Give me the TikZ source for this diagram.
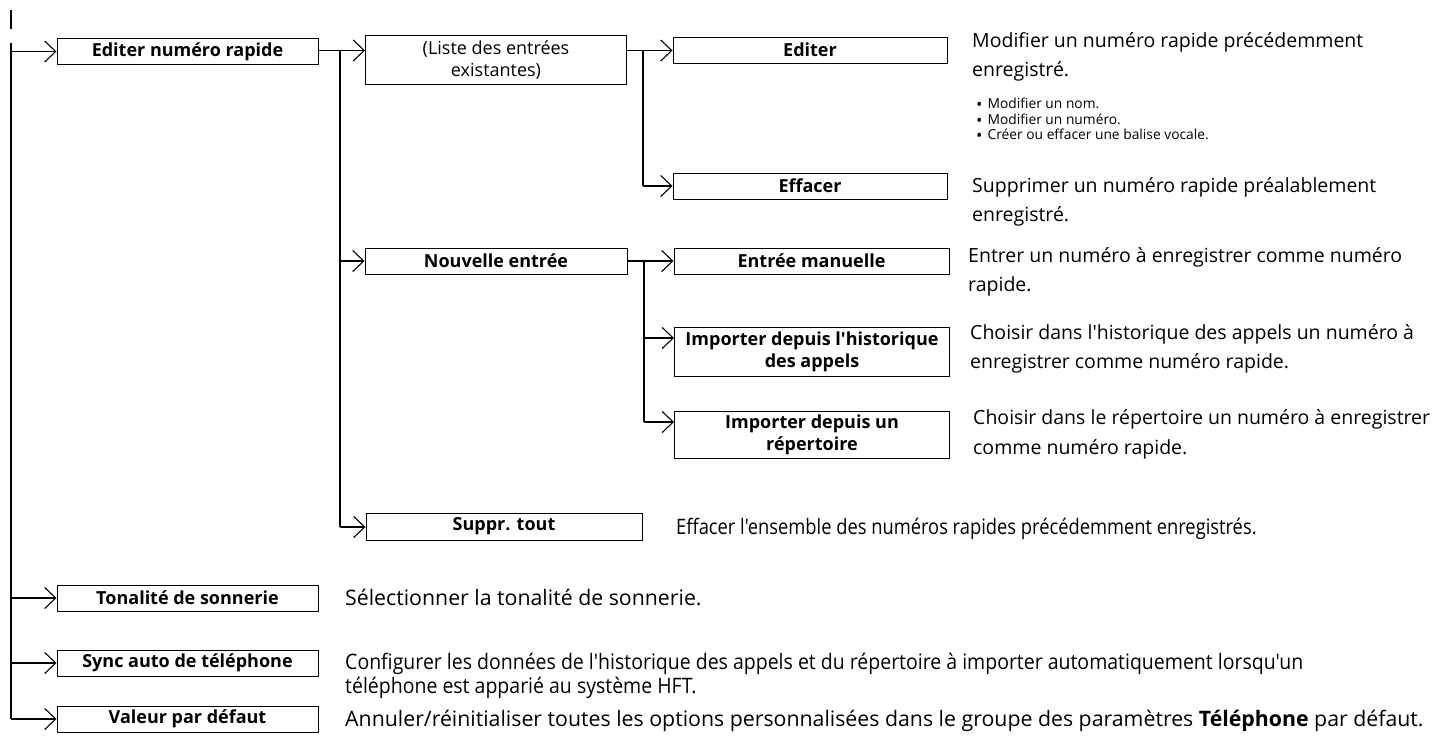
\documentclass[tikz,border=0pt]{standalone}
\usepackage{fontspec}
\setmainfont{Open Sans}[Ligatures=TeXOff]
\newfontfamily\syncfam[FakeStretch=0.915]{Open Sans}
\newfontfamily\supprfam[FakeStretch=0.86]{Open Sans}
\usetikzlibrary{arrows.meta}
\newcommand{\boxfont}{\bfseries\fontsize{18}{21.5}\selectfont}
\newcommand{\descfont}{\fontsize{19.5}{29.5}\selectfont}
\newcommand{\bulfont}{\fontsize{13.8}{15.5}\selectfont}
\newcommand{\lowfont}{\fontsize{21.3}{24}\selectfont}
\newcommand{\bul}{\raisebox{-2pt}{\fontsize{17}{15}\selectfont •}\hspace{5pt}}
\begin{document}
\begin{tikzpicture}[x=1pt,y=-1pt,
  menubox/.style={draw, line width=1pt, inner sep=0pt, align=center, font=\boxfont},
  conn/.style={line width=1.8pt},
  arr/.style={line width=1.8pt, -{Straight Barb[length=11pt,width=21pt,line width=1.1pt]}},
  desc/.style={inner sep=0pt, align=left, font=\descfont, anchor=base west},
  low/.style={inner sep=0pt, align=left, font=\lowfont, anchor=base west},
  bulitem/.style={inner sep=0pt, font=\bulfont, anchor=base west}
]
\useasboundingbox (0,0) rectangle (1434,737);
\fill[white] (0,0) rectangle (1434,737);

% trunk
\coordinate (tickA) at (11,10);
\coordinate (tickB) at (11,29);
\draw[conn] (tickA) -- (tickB);
\coordinate (trTop) at (11,43);

% level 1 boxes
\node[menubox, minimum width=261pt, minimum height=26pt] (edit) at (187.5,51.5) {Editer numéro rapide};
\node[menubox, minimum width=261pt, minimum height=26pt] (tonal) at (187.5,598) {Tonalité de sonnerie};
\node[menubox, minimum width=261pt, minimum height=26pt] (sync) at (187.5,663) {Sync auto de téléphone};
\node[menubox, minimum width=261pt, minimum height=26pt] (valeur) at (187.5,719) {Valeur par défaut};

\coordinate (trBot) at (11,719);
\draw[conn] (trTop) -- (trBot);
\draw[arr] (11,51.5) -- (edit.west);
\draw[arr] (11,598) -- (tonal.west);
\draw[arr] (11,663) -- (sync.west);
\draw[arr] (trBot) -- (valeur.west);

% level 2
\node[menubox, font=\mdseries\fontsize{18}{21.5}\selectfont, minimum width=261pt, minimum height=49pt, anchor=north west] (liste) at (365,35) {(Liste des entrées\\existantes)};
\node[menubox, minimum width=262pt, minimum height=26pt] (nouv) at (496,261) {Nouvelle entrée};
\node[menubox, minimum width=276pt, minimum height=27pt] (suppr) at (504,526.5) {Suppr. tout};

\coordinate (b1top) at (340,50.5);
\coordinate (b1bot) at (340,527);
\draw[conn] (edit.east |- b1top) -- (b1top) -- (b1bot);
\draw[arr] (b1top) -- (liste.west |- b1top);
\draw[arr] (340,261) -- (nouv.west);
\draw[arr] (b1bot) -- (suppr.west |- b1bot);

% level 3
\node[menubox, minimum width=274pt, minimum height=26pt] (editer) at (810,50) {Editer};
\node[menubox, minimum width=274pt, minimum height=26pt] (effacer) at (810,186) {Effacer};
\node[menubox, minimum width=275pt, minimum height=26pt] (manu) at (811.5,261) {Entrée manuelle};
\node[menubox, minimum width=275pt, minimum height=49pt, anchor=north west] (hist) at (674,327) {Importer depuis l'historique\\des appels};
\node[menubox, minimum width=275pt, minimum height=47pt, anchor=north west] (rep) at (674,411) {Importer depuis un\\répertoire};

\coordinate (b2top) at (643,50.5);
\coordinate (b2bot) at (643,186);
\draw[conn] (liste.east |- b2top) -- (b2top) -- (b2bot);
\draw[arr] (b2top) -- (editer.west |- b2top);
\draw[arr] (b2bot) -- (effacer.west);

\coordinate (b3top) at (644,261);
\coordinate (b3bot) at (644,422);
\draw[conn] (nouv.east) -- (b3top) -- (b3bot);
\draw[arr] (b3top) -- (manu.west);
\draw[arr] (644,338) -- (hist.west |- 0,338);
\draw[arr] (b3bot) -- (rep.west |- b3bot);

% descriptions (base west = baseline of the last line)
\node[desc] (dEditer) at (972,76.5) {Modifier un numéro rapide précédemment\\enregistré.};
\node[bulitem] (dBul1) at (976,108.5) {\bul Modifier un nom.};
\node[bulitem] (dBul2) at (976,124) {\bul Modifier un numéro.};
\node[bulitem] (dBul3) at (976,139.5) {\bul Créer ou effacer une balise vocale.};
\node[desc] (dEffacer) at (972,221.5) {Supprimer un numéro rapide préalablement\\enregistré.};
\node[desc] (dManu) at (968,291.5) {Entrer un numéro à enregistrer comme numéro\\rapide.};
\node[desc] (dHist) at (970,368.5) {Choisir dans l'historique des appels un numéro à\\enregistrer comme numéro rapide.};
\node[desc] (dRep) at (973,454) {Choisir dans le répertoire un numéro à enregistrer\\comme numéro rapide.};
\node[low, font=\supprfam\lowfont] (dSuppr) at (676,534) {Effacer l'ensemble des numéros rapides précédemment enregistrés.};
\node[low] (dTonal) at (345,605) {Sélectionner la tonalité de sonnerie.};
\node[low, font=\syncfam\lowfont] (dSync) at (345,693) {Configurer les données de l'historique des appels et du répertoire à importer automatiquement lorsqu'un\\téléphone est apparié au système HFT.};
\node[low] (dValeur) at (345,726) {Annuler/réinitialiser toutes les options personnalisées dans le groupe des paramètres \textbf{Téléphone} par défaut.};
\end{tikzpicture}
\end{document}
